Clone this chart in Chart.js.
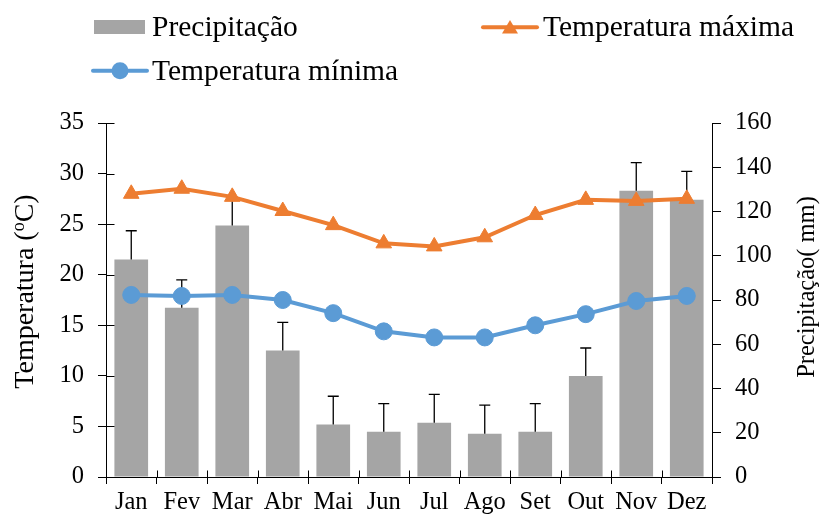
<!DOCTYPE html>
<html><head><meta charset="utf-8">
<script src="https://cdn.jsdelivr.net/npm/chart.js@4"></script>
<style>html,body{margin:0;padding:0;background:#fff}</style>
</head><body>
<canvas id="c" width="825" height="520"></canvas>
<script>
const months = ['Jan','Fev','Mar','Abr','Mai','Jun','Jul','Ago','Set','Out','Nov','Dez'];
const precipitacao = [98.3, 76.5, 113.7, 57.2, 23.7, 20.5, 24.5, 19.6, 20.5, 45.6, 129.4, 125.3];
const precipErro   = [13.0, 12.6, 12.7, 12.7, 12.8, 12.7, 12.8, 12.9, 12.7, 12.7, 12.7, 12.8];
const tempMax = [28.0, 28.5, 27.7, 26.3, 24.9, 23.1, 22.8, 23.7, 25.9, 27.4, 27.3, 27.5];
const tempMin = [18.0, 17.9, 18.0, 17.5, 16.2, 14.4, 13.8, 13.8, 15.0, 16.1, 17.4, 17.9];
const tempAxis = {min: 0, max: 35, step: 5};
const precAxis = {min: 0, max: 160, step: 20};
const labels = {precip: 'Precipitação', tmax: 'Temperatura máxima', tmin: 'Temperatura mínima'};

const FONT = '"Liberation Serif", "Times New Roman", serif';
const GRAY = '#A5A5A5', ORANGE = '#ED7D31', BLUE = '#5B9BD5';

const errorBars = {
  id: 'errorBars',
  afterDatasetDraw(chart, args) {
    if (args.index !== 0) return;
    const ctx = chart.ctx, y1 = chart.scales.y1;
    ctx.save();
    ctx.strokeStyle = '#000'; ctx.lineWidth = 1.3;
    args.meta.data.forEach((bar, i) => {
      const top = y1.getPixelForValue(precipitacao[i] + precipErro[i]);
      ctx.beginPath();
      ctx.moveTo(bar.x, bar.y); ctx.lineTo(bar.x, top);
      ctx.moveTo(bar.x - 5.5, top); ctx.lineTo(bar.x + 5.5, top);
      ctx.stroke();
    });
    ctx.restore();
  }
};

const extras = {
  id: 'extras',
  afterDraw(chart) {
    const ctx = chart.ctx, x = chart.scales.x, y = chart.scales.y;
    ctx.save();
    ctx.strokeStyle = '#000'; ctx.lineWidth = 1;
    // inward ticks on left axis
    const ax = Math.round(y.right) + 0.5;
    y.ticks.forEach((t, i) => {
      const py = Math.round(y.getPixelForTick(i)) + 0.5;
      ctx.beginPath(); ctx.moveTo(ax, py); ctx.lineTo(ax + 8, py); ctx.stroke();
    });
    // inward ticks on x axis at category boundaries
    const by = Math.round(x.top) + 0.5;
    for (let i = 0; i <= months.length; i++) {
      const px = Math.round(x.getPixelForValue(i - 0.5)) + 0.5;
      ctx.beginPath(); ctx.moveTo(px, by); ctx.lineTo(px, by - 7); ctx.stroke();
    }
    // axis titles
    ctx.fillStyle = '#000';
    ctx.textBaseline = 'middle';
    const big = '28px ' + FONT, small = '18px ' + FONT;
    ctx.font = big; const w1 = ctx.measureText('Temperatura (').width; const w3 = ctx.measureText('C)').width;
    ctx.font = small; const w2 = ctx.measureText('o').width;
    const W = w1 + w2 + w3;
    ctx.save();
    ctx.translate(26, 291.5); ctx.rotate(-Math.PI / 2);
    ctx.textAlign = 'left';
    ctx.font = big; ctx.fillText('Temperatura (', -W / 2, 0);
    ctx.font = small; ctx.fillText('o', -W / 2 + w1, -7);
    ctx.font = big; ctx.fillText('C)', -W / 2 + w1 + w2, 0);
    ctx.restore();
    ctx.save();
    ctx.translate(808, 287); ctx.rotate(-Math.PI / 2);
    ctx.textAlign = 'center';
    ctx.font = '24.5px ' + FONT;
    ctx.fillText('Precipitação( mm)', 0, 0);
    ctx.restore();
    // legend
    ctx.font = '29.5px ' + FONT; ctx.textAlign = 'left'; ctx.textBaseline = 'alphabetic';
    ctx.fillStyle = GRAY; ctx.fillRect(94, 20, 51, 14);
    ctx.fillStyle = '#000'; ctx.fillText(labels.precip, 152, 36);
    ctx.strokeStyle = ORANGE; ctx.lineWidth = 4; ctx.lineCap = 'round';
    ctx.beginPath(); ctx.moveTo(483, 27.3); ctx.lineTo(537, 27.3); ctx.stroke();
    ctx.fillStyle = ORANGE; ctx.beginPath();
    ctx.moveTo(510, 20); ctx.lineTo(518, 33.5); ctx.lineTo(502, 33.5); ctx.closePath(); ctx.fill();
    ctx.fillStyle = '#000'; ctx.fillText(labels.tmax, 543, 36);
    ctx.strokeStyle = BLUE;
    ctx.beginPath(); ctx.moveTo(93, 70.7); ctx.lineTo(147, 70.7); ctx.stroke();
    ctx.fillStyle = BLUE; ctx.beginPath(); ctx.arc(120, 70.7, 8.5, 0, Math.PI * 2); ctx.fill();
    ctx.fillStyle = '#000'; ctx.fillText(labels.tmin, 152, 80);
    ctx.restore();
  }
};

const tickFont = {family: FONT, size: 24.5};
new Chart(document.getElementById('c'), {
  data: {
    labels: months,
    datasets: [
      {type: 'bar', label: labels.precip, data: precipitacao, yAxisID: 'y1', backgroundColor: GRAY,
       barPercentage: 0.667, categoryPercentage: 1.0, order: 3},
      {type: 'line', label: labels.tmin, data: tempMin, yAxisID: 'y', borderColor: BLUE, backgroundColor: BLUE,
       borderWidth: 4, pointStyle: 'circle', pointRadius: 8.5, pointBorderWidth: 1, pointBorderColor: BLUE,
       tension: 0, order: 2},
      {type: 'line', label: labels.tmax, data: tempMax, yAxisID: 'y', borderColor: ORANGE, backgroundColor: ORANGE,
       borderWidth: 4, pointStyle: 'triangle', pointRadius: 9, pointBorderWidth: 1, pointBorderColor: ORANGE,
       tension: 0, order: 1}
    ]
  },
  options: {
    responsive: false, animation: false,
    layout: {padding: {top: 123, left: 0, right: 0, bottom: 0}},
    plugins: {legend: {display: false}, tooltip: {enabled: false}},
    scales: {
      x: {
        offset: true,
        grid: {offset: true, drawOnChartArea: false, drawTicks: true, tickLength: 7, color: '#000', lineWidth: 1},
        border: {color: '#000', width: 1},
        ticks: {font: tickFont, color: '#000', padding: 4, autoSkip: false, maxRotation: 0, minRotation: 0},
        afterFit(s) { s.height = 43; }
      },
      y: {
        position: 'left', min: tempAxis.min, max: tempAxis.max,
        grid: {drawOnChartArea: false, tickLength: 8, color: '#000'},
        border: {color: '#000', width: 1},
        ticks: {stepSize: tempAxis.step, font: tickFont, color: '#000', padding: 14},
        afterFit(s) { s.width = 106; }
      },
      y1: {
        position: 'right', min: precAxis.min, max: precAxis.max,
        grid: {drawOnChartArea: false, tickLength: 9, color: '#000'},
        border: {color: '#000', width: 1},
        ticks: {stepSize: precAxis.step, font: tickFont, color: '#000', padding: 14},
        afterFit(s) { s.width = 113; }
      }
    }
  },
  plugins: [errorBars, extras]
});
</script>
</body></html>
